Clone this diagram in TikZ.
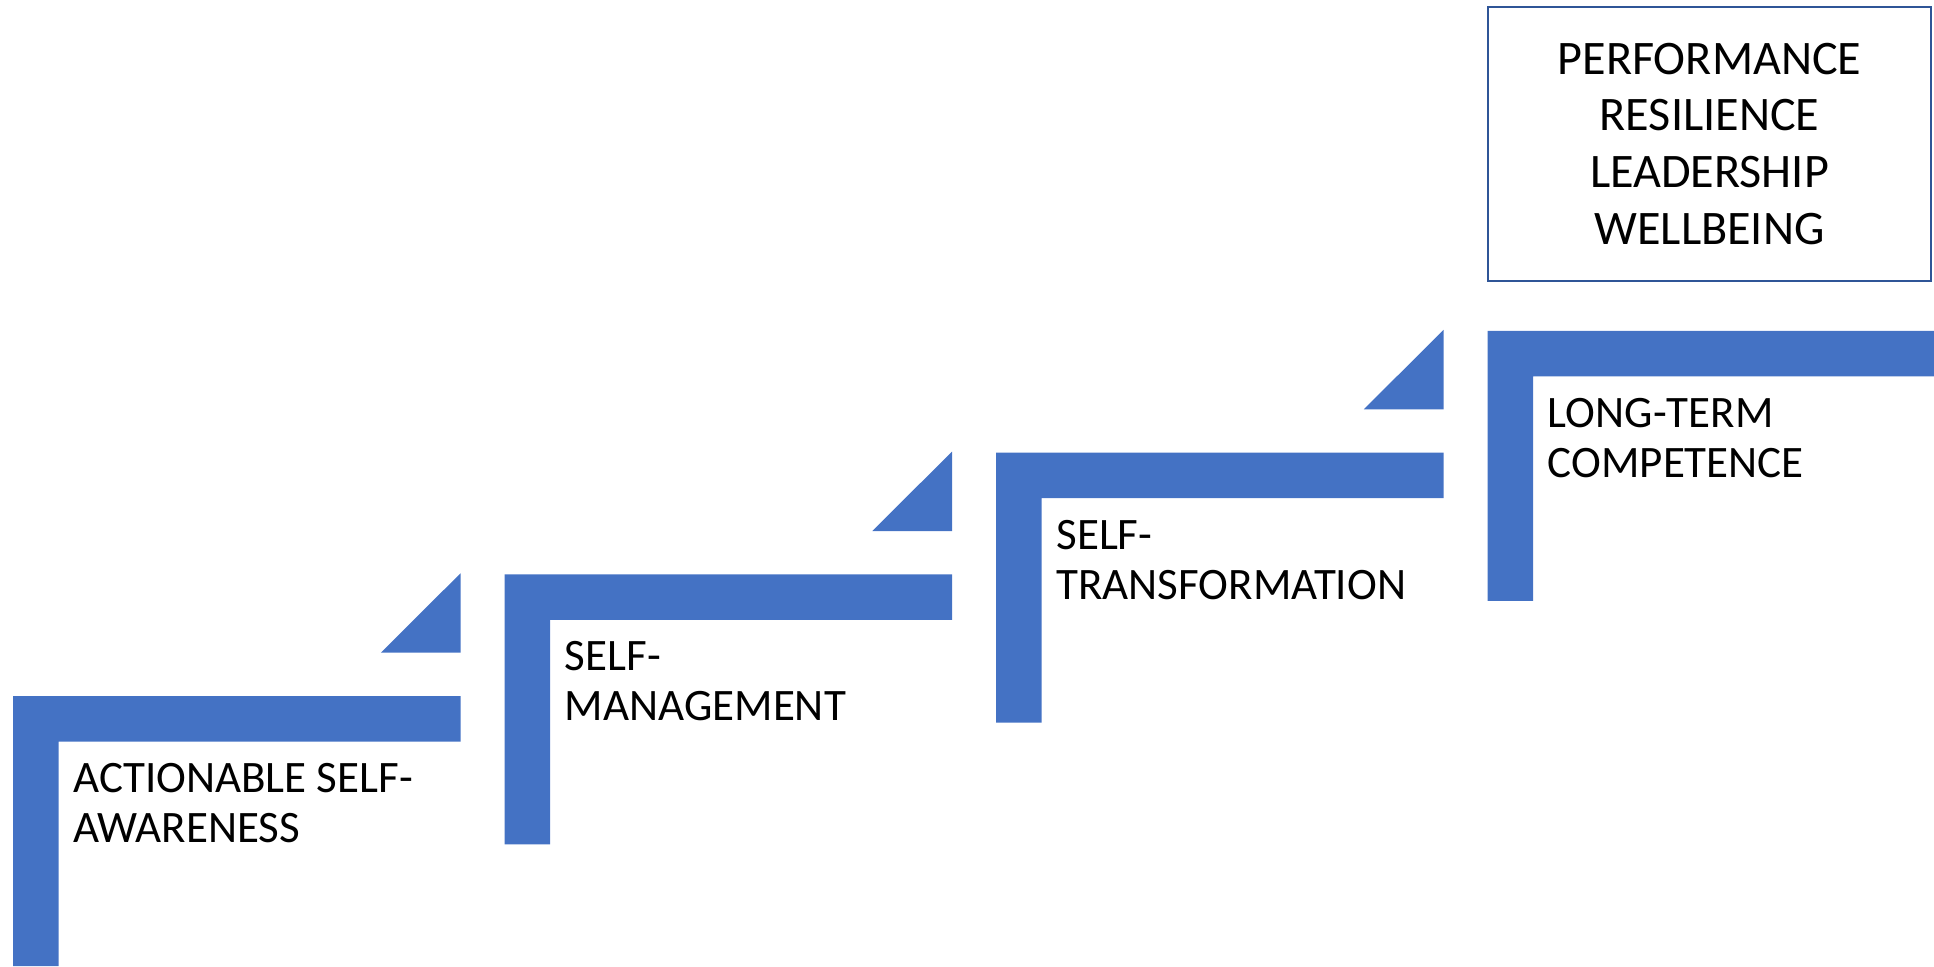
\documentclass[tikz,border=0pt]{standalone}
\usepackage{fontspec}
\setmainfont{Carlito}
\usepackage{tikz}

\definecolor{stepblue}{HTML}{4472C4}
\definecolor{boxblue}{HTML}{2F5597}

\begin{document}
\begin{tikzpicture}[stepbar/.style={fill=stepblue}, steplabel/.style={anchor=base west, align=left, inner sep=0pt, font=\fontsize{12.8}{14.2}\selectfont}]
    \useasboundingbox (0,0) rectangle (19.34,9.66);

    % step 1
    \fill[stepbar] (0.13,0) -- (0.13,2.70) -- (4.605,2.70) -- (4.605,2.245) -- (0.587,2.245) -- (0.587,0) -- cycle;
    \fill[stepbar] (3.808,3.133) -- (4.605,3.133) -- (4.605,3.927) -- cycle;
    \node[steplabel] (aware) at (0.727,1.235) {ACTIONABLE SELF-\\AWARENESS};

    % step 2
    \fill[stepbar] (5.045,1.217) -- (5.045,3.917) -- (9.52,3.917) -- (9.52,3.462) -- (5.502,3.462) -- (5.502,1.217) -- cycle;
    \fill[stepbar] (8.723,4.35) -- (9.52,4.35) -- (9.52,5.144) -- cycle;
    \node[steplabel] (manage) at (5.642,2.452) {SELF-\\MANAGEMENT};

    % step 3
    \fill[stepbar] (9.96,2.434) -- (9.96,5.134) -- (14.435,5.134) -- (14.435,4.679) -- (10.417,4.679) -- (10.417,2.434) -- cycle;
    \fill[stepbar] (13.638,5.567) -- (14.435,5.567) -- (14.435,6.361) -- cycle;
    \node[steplabel] (transform) at (10.557,3.669) {SELF-\\TRANSFORMATION};

    % step 4
    \fill[stepbar] (14.875,3.651) -- (14.875,6.351) -- (19.34,6.351) -- (19.34,5.896) -- (15.332,5.896) -- (15.332,3.651) -- cycle;
    \node[steplabel] (competence) at (15.472,4.886) {LONG-TERM\\COMPETENCE};

    % outcomes
    \node[draw=boxblue, line width=0.6pt, minimum width=4.43cm, minimum height=2.74cm, align=center, font=\fontsize{13.7}{16.2}\selectfont] (outcome) at (17.095,8.22) {PERFORMANCE\\RESILIENCE\\LEADERSHIP\\WELLBEING};
\end{tikzpicture}
\end{document}
